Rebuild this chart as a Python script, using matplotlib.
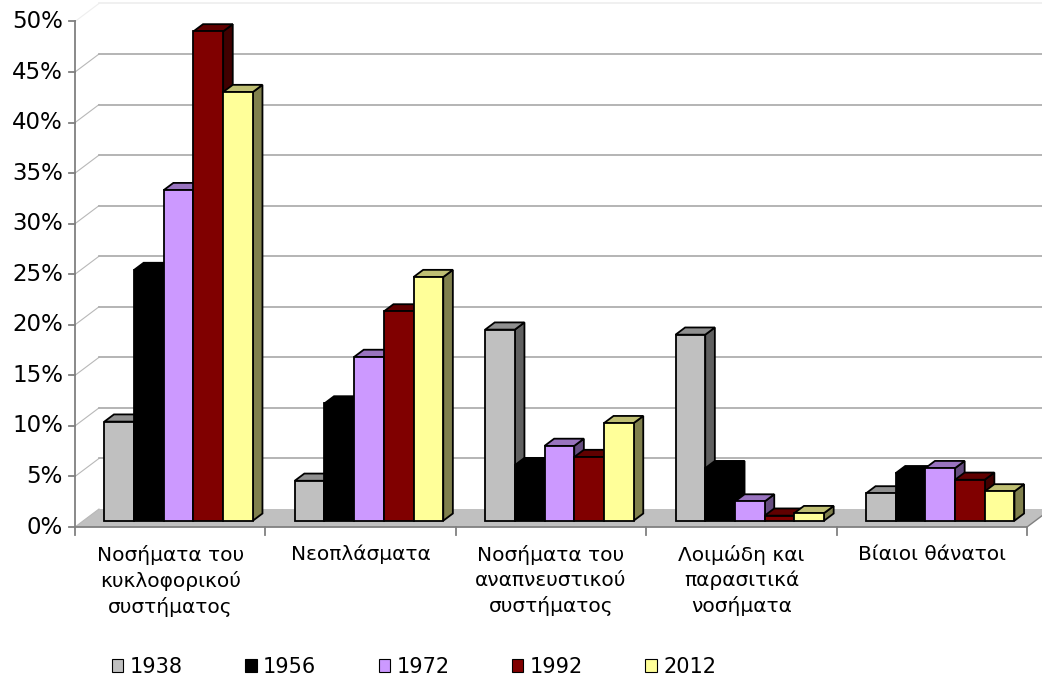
import matplotlib
matplotlib.use("Agg")
import matplotlib.pyplot as plt
from matplotlib.patches import Polygon, Patch
from matplotlib.colors import to_rgb

# data (percent of deaths)
categories = ["Νοσήματα του\nκυκλοφορικού\nσυστήματος", "Νεοπλάσματα",
              "Νοσήματα του\nαναπνευστικού\nσυστήματος", "Λοιμώδη και\nπαρασιτικά\nνοσήματα",
              "Βίαιοι θάνατοι"]
years = ["1938", "1956", "1972", "1992", "2012"]
v1938 = [9.8, 3.95, 18.9, 18.4, 2.7]
v1956 = [24.8, 11.6, 5.5, 5.2, 4.7]
v1972 = [32.7, 16.2, 7.4, 1.9, 5.2]
v1992 = [48.4, 20.7, 6.3, 0.5, 4.05]
v2012 = [42.4, 24.1, 9.65, 0.75, 2.9]
series = [v1938, v1956, v1972, v1992, v2012]
colors = ["#C0C0C0", "#000000", "#CC99FF", "#800000", "#FFFF99"]
yticks = list(range(0, 55, 5))


def shade(c, f):
    r, g, b = to_rgb(c)
    return (r * f, g * f, b * f)


fig = plt.figure(figsize=(10.42, 6.87), dpi=100)
ax = fig.add_axes([0, 0, 1, 1])
ax.set_axis_off()

# pixel scale of the plot: one category = 190.4 px, 1% = 10.11 px
PX_X = 190.4
PX_Y = 10.11
ax.set_xlim(-75 / PX_X, (1042 - 75) / PX_X)
ax.set_ylim(-(687 - 527) / PX_Y, 527 / PX_Y)
xmax = ax.get_xlim()[1]
ncat = len(categories)

# depth of the 3d box
DX, DY = 24 / PX_X, 18 / PX_Y

# floor
ax.add_patch(Polygon([(0, 0), (ncat, 0), (ncat + DX, DY), (DX, DY)],
                     closed=True, facecolor="#C0C0C0", edgecolor="none", zorder=1))
ax.plot([ncat, ncat + DX], [0, DY], color="#808080", lw=1, zorder=1.5)

# gridlines on side wall and back wall
for v in yticks:
    gc = "#A8A8A8" if v < 50 else "#EEEEEE"
    ax.plot([0, DX], [v, v + DY], color="#B8B8B8" if v < 50 else gc, lw=0.8, zorder=1.2)
    if v > 0:
        ax.plot([DX, xmax], [v + DY, v + DY], color=gc, lw=1.2, zorder=1.2)

# y axis
ax.plot([0, 0], [0, 50], color="#808080", lw=1.3, zorder=2)
for v in yticks:
    ax.plot([-6 / PX_X, 0], [v, v], color="#808080", lw=1.3, zorder=2)
    ax.text(-12 / PX_X, v, "%d%%" % v, ha="right", va="center", fontsize=16.5)

# x axis
ax.plot([0, ncat], [0, 0], color="#808080", lw=1.3, zorder=2)
for i in range(ncat + 1):
    ax.plot([i, i], [0, -8 / PX_Y], color="#808080", lw=1.3, zorder=2)
for i, cat in enumerate(categories):
    ax.text(i + 0.5, -18 / PX_Y, cat, ha="center", va="top", fontsize=14.5, linespacing=1.38)

# bars
W = 0.78
w = W / len(series)
fdx, fdy = 0.35 * DX, 0.35 * DY
bdx, bdy = 0.4 * DX, 0.4 * DY
for j, (vals, c) in enumerate(zip(series, colors)):
    z = 3 + j
    lefts = [i + 0.5 - W / 2 + j * w + fdx for i in range(ncat)]
    for xl, v in zip(lefts, vals):
        xr = xl + w
        yt = fdy + v
        side = [(xr, fdy), (xr + bdx, fdy + bdy), (xr + bdx, yt + bdy), (xr, yt)]
        top = [(xl, yt), (xr, yt), (xr + bdx, yt + bdy), (xl + bdx, yt + bdy)]
        ax.add_patch(Polygon(side, closed=True, facecolor=shade(c, 0.5),
                             edgecolor="black", lw=1.3, zorder=z))
        ax.add_patch(Polygon(top, closed=True, facecolor=shade(c, 0.75),
                             edgecolor="black", lw=1.3, zorder=z))
    ax.bar(lefts, vals, width=w, bottom=fdy, align="edge", color=c,
           edgecolor="black", linewidth=1.3, zorder=z + 0.5)

handles = [Patch(facecolor=c, edgecolor="black", lw=0.8) for c in colors]
fig.legend(handles, years, loc="center", bbox_to_anchor=(414 / 1042, 20 / 687),
           ncol=5, frameon=False, fontsize=15, handlelength=0.55, handleheight=0.55,
           handletextpad=0.3, columnspacing=3.0)

fig.savefig("out.png", dpi=100)
